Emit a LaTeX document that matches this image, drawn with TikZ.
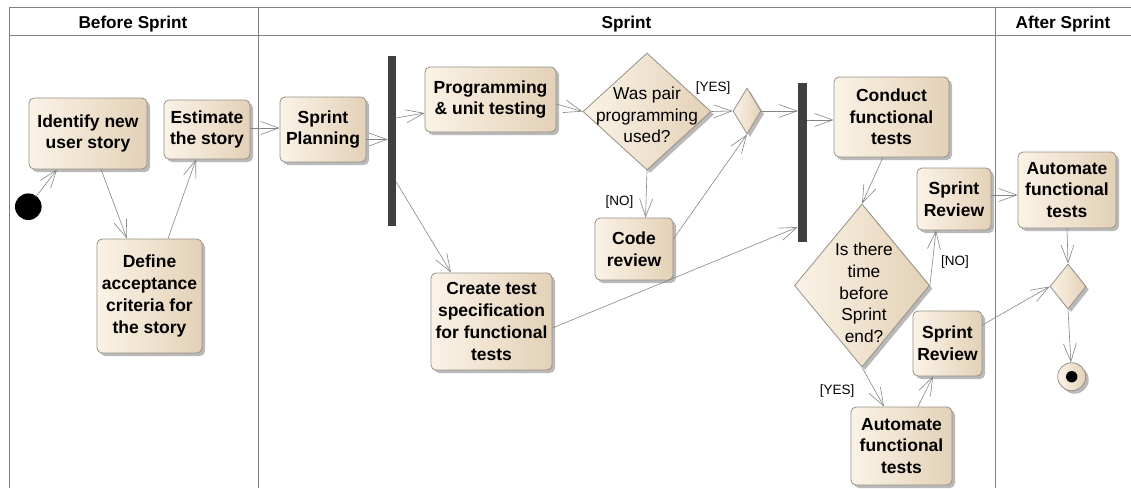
\documentclass[tikz,border=0pt]{standalone}
\usepackage{fontspec}
\setmainfont{Liberation Sans}
\usetikzlibrary{arrows.meta,shapes.geometric,shadows,calc}
\definecolor{framec}{HTML}{808080}
\definecolor{edgec}{HTML}{858585}
\definecolor{boxline}{HTML}{969088}
\definecolor{fillL}{HTML}{FBF3E7}
\definecolor{fillM}{HTML}{F4E9D9}
\definecolor{fillR}{HTML}{E3D1B7}
\definecolor{barc}{HTML}{404040}
\begin{document}
\begin{tikzpicture}[x=1pt,y=-1pt,
  shad/.style={drop shadow={shadow xshift=3pt,shadow yshift=-3pt,fill=black!55,opacity=0.5}},
  act/.style={draw=boxline, line width=0.8pt, rounded corners=5pt, left color=fillL, middle color=fillM, right color=fillR, shad,
    font=\fontsize{17.5}{21.7}\selectfont\bfseries, align=center, inner sep=0pt},
  dec/.style={diamond, draw=boxline, line width=0.8pt, left color=fillL, middle color=fillM, right color=fillR, shad, inner sep=0pt},
  dectext/.style={font=\fontsize{17.3}{21.7}\selectfont, align=center, inner sep=0pt},
  lbl/.style={font=\fontsize{13.5}{16}\selectfont, inner sep=0pt},
  flow/.style={draw=edgec, line width=0.6pt, -{Straight Barb[length=18pt,width=13pt]}},
  lane/.style={draw=framec, line width=0.8pt},
  hdr/.style={font=\fontsize{17.2}{20}\selectfont\bfseries, inner sep=0pt, anchor=base},
  forkbar/.style={fill=barc, draw=none, inner sep=0pt},
]
\useasboundingbox (0,0) rectangle (1131,488);
% swimlanes
\draw[lane] (9,7) -- (1131,7);
\draw[lane] (9,35) -- (1131,35);
\draw[lane] (9,7) -- (9,488);
\draw[lane] (258,7) -- (258,488);
\draw[lane] (995,7) -- (995,488);
\node[hdr] (h1) at (133,28.3) {Before Sprint};
\node[hdr] (h2) at (626.5,28.3) {Sprint};
\node[hdr] (h3) at (1063,28.3) {After Sprint};

% before sprint
\node[circle, fill=black, minimum size=26.6pt, inner sep=0pt] (init) at (28.3,206.7) {};
\node[act, minimum width=118pt, minimum height=71pt] (identify) at (88,133.5) {Identify new\\user story};
\node[act, minimum width=86pt, minimum height=59pt] (estimate) at (207,129.5) {Estimate\\the story};
\node[act, minimum width=105pt, minimum height=114pt] (define) at (149.5,296) {Define\\acceptance\\criteria for\\the story};

% sprint
\node[act, minimum width=86pt, minimum height=65pt] (planning) at (323,129.5) {Sprint\\Planning};
\node[forkbar, minimum width=8pt, minimum height=170pt] (fork1) at (392,141) {};
\node[act, minimum width=131pt, minimum height=65pt] (prog) at (490.5,99.5) {Programming\\\& unit testing};
\node[dec, minimum width=128pt, minimum height=117pt] (dec1) at (647,111.5) {};
\node[dectext] (dec1t) at (647,115) {Was pair\\programming\\used?};
\node[dec, minimum width=28pt, minimum height=46pt] (merge1) at (747,111) {};
\node[act, minimum width=78pt, minimum height=62pt] (code) at (634,249) {Code\\review};
\node[act, minimum width=121pt, minimum height=97pt] (create) at (491.5,321.5) {Create test\\specification\\for functional\\tests};
\node[forkbar, minimum width=9pt, minimum height=159pt] (fork2) at (802.5,162.5) {};
\node[act, minimum width=115pt, minimum height=80pt] (conduct) at (891.5,117) {Conduct\\functional\\tests};
\node[dec, minimum width=135pt, minimum height=163pt] (dec2) at (862,285.5) {};
\node[dectext] (dec2t) at (864,293) {Is there\\time\\before\\Sprint\\end?};
\node[act, minimum width=74pt, minimum height=62pt] (sr1) at (954,199) {Sprint\\Review};
\node[act, minimum width=69pt, minimum height=65pt] (sr2) at (947.5,343.5) {Sprint\\Review};
\node[act, minimum width=101pt, minimum height=78pt] (auto2) at (901.5,446) {Automate\\functional\\tests};

% after sprint
\node[act, minimum width=98pt, minimum height=76pt] (auto1) at (1067,190) {Automate\\functional\\tests};
\node[dec, minimum width=36pt, minimum height=45pt] (merge2) at (1068,286.5) {};
\node[circle, draw=boxline, line width=0.8pt, left color=fillL, middle color=fillM, right color=fillR, shad, minimum size=28pt, inner sep=0pt] (final) at (1071.7,376.7) {};
\node[circle, fill=black, minimum size=11.4pt, inner sep=0pt] (finaldot) at (final.center) {};

% guard labels
\node[lbl] (yes1) at (713,88.5) {[YES]};
\node[lbl] (no1) at (619.5,202) {[NO]};
\node[lbl] (no2) at (955,262.5) {[NO]};
\node[lbl] (yes2) at (837,391) {[YES]};

% connectors
\draw[flow] (init) -- ([xshift=-31pt]identify.south);
\draw[flow] ([xshift=13pt]identify.south) -- ([xshift=-22.5pt]define.north);
\draw[flow] ([xshift=18.5pt]define.north) -- ([xshift=-11pt]estimate.south);
\draw[flow] ([yshift=1.5pt]estimate.east) -- ([yshift=1.5pt]estimate.east -| planning.west);
\draw[flow] ([yshift=-10pt]planning.east) -- ([yshift=-10pt]planning.east -| fork1.west);
\draw[flow] ([yshift=23pt]fork1.east) -- ([yshift=-13.5pt]prog.west);
\draw[flow] ([yshift=-41pt]fork1.east) -- ([xshift=-40.5pt]create.north);
\draw[flow] ([yshift=-4.5pt]prog.east) -- (dec1.west);
\draw[flow] (dec1.east) -- (merge1.west);
\draw[flow] (dec1.south) -- ([xshift=11.5pt]code.north);
\draw[flow] ([yshift=10pt]code.east) -- (merge1.south);
\draw[flow] (merge1.east) -- (merge1.east -| fork2.west);
\draw[flow] ([yshift=-6.5pt]create.east) -- ([yshift=-64.5pt]fork2.west);
\draw[flow] ([yshift=-3pt]conduct.west -| fork2.east) -- ([yshift=-3pt]conduct.west);
\draw[flow] ([xshift=-8.5pt]conduct.south) -- (dec2.north);
\draw[flow] (dec2.east) -- ([xshift=-18pt]sr1.south);
\draw[flow] ([yshift=4pt]sr1.east) -- ([yshift=4pt]sr1.east -| auto1.west);
\draw[flow] (auto1.south) -- (merge2.north);
\draw[flow] (dec2.south) -- ([xshift=-17.5pt]auto2.north);
\draw[flow] ([xshift=16.5pt]auto2.north) -- ([xshift=-14.5pt]sr2.south);
\draw[flow] ([yshift=18.5pt]sr2.east) -- (merge2.west);
\draw[flow] (merge2.south) -- (final);
\end{tikzpicture}
\end{document}
